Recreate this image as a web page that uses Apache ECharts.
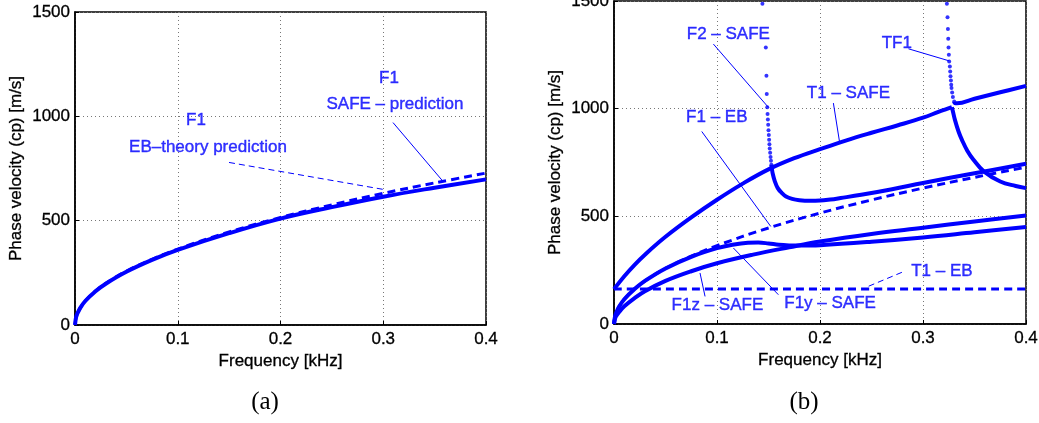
<!DOCTYPE html>
<html><head><meta charset="utf-8">
<script src="https://cdn.jsdelivr.net/npm/echarts@6/dist/echarts.min.js"></script>
<style>html,body{margin:0;padding:0;background:#fff}#c{width:1039px;height:423px}</style>
</head><body><div id="c"></div><script>
// ---------- data ----------
const xTickLabels = ['0', '0.1', '0.2', '0.3', '0.4'];
const yTickLabels = ['0', '500', '1000', '1500'];

// Panel (a)
const freqA   = [0, 0.001, 0.002, 0.005, 0.01, 0.02, 0.03, 0.05, 0.075, 0.1, 0.15, 0.2, 0.25, 0.3, 0.35, 0.4];
const ebF1    = [0, 36, 51, 81, 115, 163, 200, 258, 315, 364, 446, 515, 576, 631, 681, 728];
const safeF1  = [0, 36, 51, 81, 115, 162, 198, 255, 312, 360, 440, 510, 565, 615, 658, 698];

// Panel (b)
const t1EbF   = [0, 0.4];
const t1EbV   = [162, 162];

const f1yF = [0, 0.001, 0.002, 0.005, 0.01, 0.02, 0.03, 0.05, 0.075, 0.1, 0.115, 0.13, 0.14, 0.15, 0.16, 0.17, 0.18, 0.2, 0.25, 0.3, 0.35, 0.4];
const f1yV = [0, 36, 51, 81, 115, 162, 200, 258, 312, 352, 368, 377, 378, 374, 368, 365, 364, 366, 382, 402, 426, 450];

const f1zF = [0, 0.001, 0.002, 0.005, 0.01, 0.02, 0.03, 0.05, 0.075, 0.1, 0.135, 0.17, 0.2, 0.25, 0.3, 0.35, 0.4];
const f1zV = [0, 25, 36, 56, 82, 120, 152, 200, 245, 282, 322, 356, 383, 418, 447, 476, 504];

const t1F = [0, 0.01, 0.02, 0.03, 0.05, 0.075, 0.1, 0.125, 0.15, 0.175, 0.2, 0.225, 0.25, 0.275, 0.3, 0.315, 0.322, 0.328];
const t1V = [162, 222, 275, 322, 405, 495, 577, 652, 718, 770, 812, 852, 888, 922, 958, 985, 997, 1007];
const t1TailF = [0.328, 0.329, 0.331, 0.3345, 0.3377, 0.343, 0.349, 0.359, 0.375, 0.39, 0.4];
const t1TailV = [1007, 988, 948, 894, 856, 805, 763, 709, 662, 641, 631];

const f2DotF = [0.1441, 0.1474, 0.1480, 0.1483, 0.1488, 0.1491, 0.1494, 0.1497, 0.1500, 0.1503, 0.1506, 0.1509, 0.1512, 0.1516, 0.1520, 0.1524, 0.1528];
const f2DotV = [1487, 1284, 1153, 1068, 1006, 975, 950, 925, 900, 878, 856, 835, 815, 795, 776, 758, 740];
const f2F = [0.1528, 0.1533, 0.154, 0.156, 0.159, 0.163, 0.167, 0.173, 0.18, 0.19, 0.2, 0.21, 0.22, 0.24, 0.27, 0.3, 0.35, 0.4];
const f2V = [740, 722, 700, 665, 631, 608, 592, 581, 575, 572, 573, 578, 585, 600, 626, 655, 700, 744];

const tf1DotF = [0.3232, 0.3238, 0.3242, 0.3245, 0.3248, 0.3251, 0.3254, 0.3261, 0.3264, 0.3267, 0.3271, 0.3274, 0.3277, 0.3283, 0.329, 0.3303];
const tf1DotV = [1487, 1425, 1370, 1325, 1284, 1250, 1219, 1196, 1173, 1150, 1131, 1111, 1096, 1075, 1054, 1033];
const tf1F = [0.3303, 0.331, 0.333, 0.35, 0.375, 0.4];
const tf1V = [1033, 1026, 1025, 1046, 1076, 1106];

// annotations (text at data coords, leader lines in data coords)
const textA = [
  {t: 'F1', f: 0.1178, v: 979},
  {t: 'EB\u2013theory prediction', f: 0.1294, v: 850},
  {t: 'F1', f: 0.3056, v: 1180},
  {t: 'SAFE \u2013 prediction', f: 0.3114, v: 1060}
];
const leadSolidA  = [[[0.3095, 970], [0.3582, 688]]];
const leadDashedA = [[[0.1499, 779], [0.2998, 650]]];

const textB = [
  {t: 'F2 \u2013 SAFE', f: 0.111, v: 1343},
  {t: 'TF1', f: 0.2746, v: 1305},
  {t: 'T1 \u2013 SAFE', f: 0.2276, v: 1072},
  {t: 'F1 \u2013 EB', f: 0.0998, v: 959},
  {t: 'T1 \u2013 EB', f: 0.3183, v: 244},
  {t: 'F1z \u2013 SAFE', f: 0.1004, v: 85},
  {t: 'F1y \u2013 SAFE', f: 0.2098, v: 97}
];
const leadSolidB = [
  [[0.0965, 1300], [0.1499, 1006]],
  [[0.2859, 1278], [0.3254, 1222]],
  [[0.2130, 1026], [0.2189, 848]],
  [[0.0852, 894], [0.1522, 453]],
  [[0.0884, 128], [0.0835, 237]],
  [[0.1596, 136], [0.1159, 353]]
];
const leadDashedB = [[[0.2795, 240], [0.2455, 172]]];

// ---------- chart ----------
const BLUE = '#0000ff';
const FONT = 'Liberation Sans';
const zip = (xs, ys) => xs.map((x, i) => [x, ys[i]]);
const blackText = {color: '#000', fontSize: 17, fontFamily: FONT, textBorderColor: '#000', textBorderWidth: 0.3};

function xAxisFor(gi) {
  return {
    type: 'value', gridIndex: gi, min: 0, max: 0.4, interval: 0.1,
    name: 'Frequency [kHz]', nameLocation: 'middle', nameGap: 24,
    nameTextStyle: blackText,
    axisLine: {show: true, onZero: false, lineStyle: {color: '#000', width: 1.5}},
    axisTick: {show: true, inside: true, length: 4, lineStyle: {color: '#000'}},
    axisLabel: Object.assign({margin: 6, formatter: (v, i) => xTickLabels[i]}, blackText),
    splitLine: {show: true, lineStyle: {color: '#777', type: [1, 3], width: 1}}
  };
}
function yAxisFor(gi) {
  return {
    type: 'value', gridIndex: gi, min: 0, max: 1500, interval: 500,
    name: 'Phase velocity (cp) [m/s]', nameLocation: 'middle', nameGap: 50,
    nameTextStyle: blackText,
    axisLine: {show: true, onZero: false, lineStyle: {color: '#000', width: 1.5}},
    axisTick: {show: true, inside: true, length: 4, lineStyle: {color: '#000'}},
    axisLabel: Object.assign({margin: 5, formatter: (v, i) => yTickLabels[i]}, blackText),
    splitLine: {show: true, lineStyle: {color: '#777', type: [1, 3], width: 1}}
  };
}
function curve(gi, data, width, dashed) {
  return {
    type: 'line', xAxisIndex: gi, yAxisIndex: gi, data: data,
    showSymbol: false, symbol: 'none', smooth: 0.4,
    lineStyle: {color: BLUE, width: width, type: dashed ? [8, 5] : 'solid', cap: 'butt'},
    silent: true, animation: false, z: 3
  };
}
function dots(gi, data) {
  return {
    type: 'scatter', xAxisIndex: gi, yAxisIndex: gi, data: data,
    symbol: 'circle', symbolSize: 4, itemStyle: {color: BLUE},
    silent: true, animation: false, z: 3
  };
}
function texts(gi, arr) {
  return {
    type: 'scatter', xAxisIndex: gi, yAxisIndex: gi, symbolSize: 0,
    data: arr.map(a => ({value: [a.f, a.v], label: {formatter: a.t}})),
    label: {show: true, position: 'inside', color: BLUE, fontSize: 17, fontFamily: FONT,
      textBorderColor: BLUE, textBorderWidth: 0.4},
    silent: true, animation: false, z: 6
  };
}
function leaders(gi, arr, dashed) {
  return {
    type: 'lines', coordinateSystem: 'cartesian2d', xAxisIndex: gi, yAxisIndex: gi,
    data: arr.map(c => ({coords: c})),
    lineStyle: {color: BLUE, width: 1, type: dashed ? [6, 4] : 'solid', opacity: 1},
    silent: true, animation: false, z: 5
  };
}

const chart = echarts.init(document.getElementById('c'), null, {renderer: 'canvas'});
chart.setOption({
  backgroundColor: '#fff',
  animation: false,
  grid: [
    {left: 75, top: 12, width: 411, height: 313, show: true, borderColor: '#000', borderWidth: 1.5, backgroundColor: 'transparent', containLabel: false, outerBoundsMode: 'none'},
    {left: 614, top: 1, width: 412, height: 323, show: true, borderColor: '#000', borderWidth: 1.5, backgroundColor: 'transparent', containLabel: false, outerBoundsMode: 'none'}
  ],
  xAxis: [xAxisFor(0), xAxisFor(1)],
  yAxis: [yAxisFor(0), yAxisFor(1)],
  series: [
    curve(0, zip(freqA, ebF1), 3, true),
    curve(0, zip(freqA, safeF1), 4, false),
    leaders(0, leadSolidA, false),
    leaders(0, leadDashedA, true),
    texts(0, textA),

    curve(1, zip(freqA, ebF1), 3, true),
    curve(1, zip(t1EbF, t1EbV), 3, true),
    curve(1, zip(f1yF, f1yV), 4, false),
    curve(1, zip(f1zF, f1zV), 4, false),
    curve(1, zip(t1F, t1V), 4, false),
    curve(1, zip(t1TailF, t1TailV), 4, false),
    curve(1, zip(f2F, f2V), 4, false),
    dots(1, zip(f2DotF, f2DotV)),
    curve(1, zip(tf1F, tf1V), 4, false),
    dots(1, zip(tf1DotF, tf1DotV)),
    leaders(1, leadSolidB, false),
    leaders(1, leadDashedB, true),
    texts(1, textB)
  ],
  graphic: [
    {type: 'text', x: 265, y: 402, style: {text: '(a)', fill: '#000', font: '25px "Liberation Serif"', textAlign: 'center', textVerticalAlign: 'middle'}},
    {type: 'text', x: 804, y: 402, style: {text: '(b)', fill: '#000', font: '25px "Liberation Serif"', textAlign: 'center', textVerticalAlign: 'middle'}}
  ]
});
</script></body></html>
